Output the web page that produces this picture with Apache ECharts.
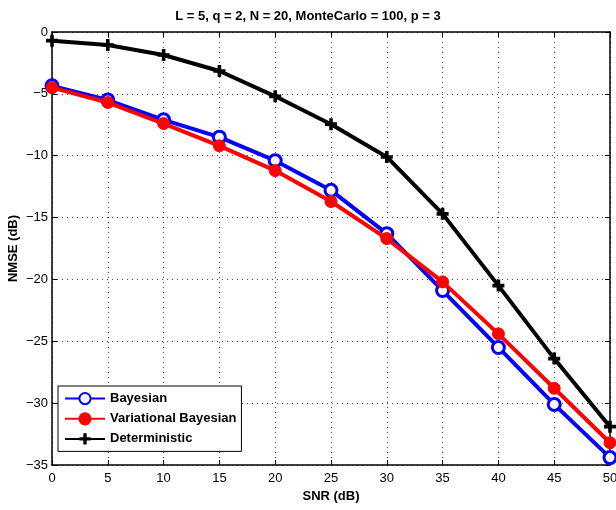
<!DOCTYPE html>
<html><head><meta charset="utf-8">
<script src="https://cdn.jsdelivr.net/npm/echarts@6/dist/echarts.min.js"></script>
<style>html,body{margin:0;padding:0;background:#fff}#c{width:616px;height:510px}</style>
</head><body><div id="c"></div>
<script>
const snr = [0, 5, 10, 15, 20, 25, 30, 35, 40, 45, 50];
const bayesian = [-4.35, -5.5, -7.1, -8.5, -10.4, -12.8, -16.3, -20.9, -25.5, -30.1, -34.4];
const variational = [-4.5, -5.7, -7.4, -9.2, -11.2, -13.7, -16.7, -20.2, -24.4, -28.8, -33.2];
const deterministic = [-0.7, -1.05, -1.86, -3.15, -5.2, -7.45, -10.1, -14.7, -20.5, -26.4, -31.9];
const titleText = 'L = 5, q = 2, N = 20, MonteCarlo = 100, p = 3';

const pair = a => a.map((v, i) => [snr[i], v]);
const font = 'Liberation Sans, Arial, sans-serif';
const plus = 'path://M3.5,0 H6.5 V3.5 H10 V6.5 H6.5 V10 H3.5 V6.5 H0 V3.5 H3.5 Z';
const chart = echarts.init(document.getElementById('c'), null, {renderer: 'canvas'});
const gridLine = {show: true, lineStyle: {color: '#444', type: [1, 4], width: 1}};
const axisBase = {
  axisLine: {show: true, onZero: false, lineStyle: {color: '#000', width: 1.5}},
  axisTick: {show: true, inside: true, length: 5, lineStyle: {color: '#000'}},
};
const minus = v => String(v).replace('-', '\u2212');
chart.setOption({
  animation: false,
  title: {text: titleText, left: 'center', top: 5, textStyle: {fontFamily: font, fontSize: 13, fontWeight: 'bold', color: '#000'}},
  grid: {left: 52, right: 6, top: 32, bottom: 45, containLabel: false, outerBoundsMode: 'none'},
  xAxis: [
    Object.assign({}, axisBase, {type: 'value', min: 0, max: 50, interval: 5, position: 'bottom',
      name: 'SNR (dB)', nameLocation: 'middle', nameGap: 25, nameMoveOverlap: false,
      nameTextStyle: {fontFamily: font, fontSize: 13, fontWeight: 'bold', color: '#000'},
      axisLabel: {fontFamily: font, fontSize: 13, color: '#000', margin: 7},
      splitLine: gridLine}),
    Object.assign({}, axisBase, {type: 'value', min: 0, max: 50, interval: 5, position: 'top',
      axisLabel: {show: false}, splitLine: {show: false}})
  ],
  yAxis: [
    Object.assign({}, axisBase, {type: 'value', min: -35, max: 0, interval: 5, position: 'left',
      name: 'NMSE (dB)', nameLocation: 'middle', nameGap: 32, nameMoveOverlap: false,
      nameTextStyle: {fontFamily: font, fontSize: 13, fontWeight: 'bold', color: '#000'},
      axisLabel: {fontFamily: font, fontSize: 13, color: '#000', margin: 4, formatter: minus},
      splitLine: gridLine}),
    Object.assign({}, axisBase, {type: 'value', min: -35, max: 0, interval: 5, position: 'right',
      axisLabel: {show: false}, splitLine: {show: false}})
  ],
  legend: {
    orient: 'vertical', left: 58, top: 386, itemWidth: 40, itemHeight: 14, itemGap: 7,
    padding: [6, 5, 6, 6],
    backgroundColor: '#fff', borderColor: '#000', borderWidth: 1, borderRadius: 0,
    textStyle: {fontFamily: font, fontSize: 13, fontWeight: 'bold', color: '#000'},
    data: ['Bayesian', 'Variational Bayesian', 'Deterministic']
  },
  series: [
    {name: 'Bayesian', type: 'line', data: pair(bayesian), symbol: 'circle', symbolSize: 12,
      itemStyle: {color: '#fff', borderColor: '#0000ff', borderWidth: 3},
      lineStyle: {color: '#0000ff', width: 4}, color: '#0000ff', z: 3},
    {name: 'Variational Bayesian', type: 'line', data: pair(variational), symbol: 'circle', symbolSize: 12,
      itemStyle: {color: '#ff0000', borderColor: '#ff0000', borderWidth: 1},
      lineStyle: {color: '#ff0000', width: 4}, color: '#ff0000', z: 4},
    {name: 'Deterministic', type: 'line', data: pair(deterministic), symbol: plus, symbolSize: 12,
      itemStyle: {color: '#000'}, lineStyle: {color: '#000', width: 4}, color: '#000', z: 5}
  ]
});
</script></body></html>
